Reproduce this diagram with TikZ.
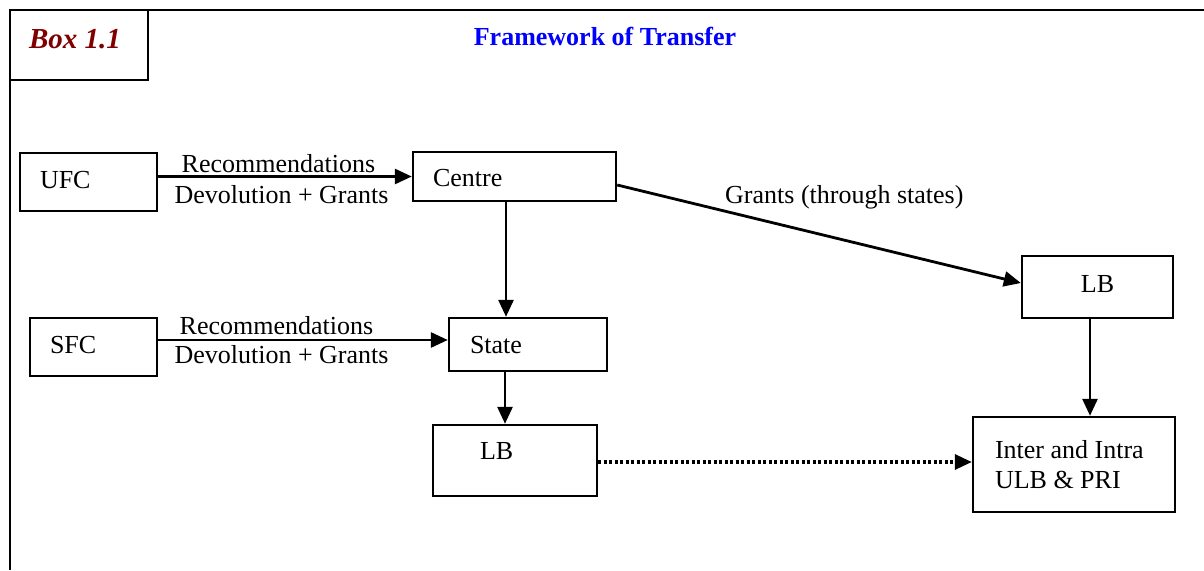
\documentclass[tikz,border=0pt]{standalone}
\usepackage{fontspec}
\setmainfont{Liberation Serif}
\usetikzlibrary{arrows.meta,calc}
\definecolor{boxred}{HTML}{800000}
\definecolor{titleblue}{HTML}{0000FF}
\tikzset{
  frameline/.style={line width=2.6pt},
  fbox/.style={draw,line width=2.4pt,inner ysep=0pt,align=flush left,font=\fontsize{26}{30}\selectfont},
  arr/.style={line width=2.8pt,-{Triangle[length=17pt,width=15pt]}},
  dotarr/.style={line width=3.2pt,dash pattern=on 3pt off 2.5pt,-{Triangle[length=17pt,width=15pt]}},
  lbl/.style={anchor=base,inner sep=0pt,font=\fontsize{26}{30}\selectfont},
}
\begin{document}
\begin{tikzpicture}[x=1pt,y=-1pt]
\useasboundingbox (0,0) rectangle (1204,570);
% outer frame
\draw[frameline] (1204,10) -- (10,10) -- (10,570);
% box label
\node[draw,line width=2.4pt,minimum width=138pt,minimum height=70pt,text width=100pt,inner xsep=19pt,inner ysep=0pt,
      text height=20pt,text depth=14pt,align=flush left,text=boxred,font=\fontsize{29}{33}\selectfont\bfseries\itshape]
  (boxlab) at (79,45) {Box 1.1};
\node[anchor=base,inner sep=0pt,text=titleblue,font=\fontsize{26}{30}\selectfont\bfseries] (title) at (605,45) {Framework of Transfer};
% boxes
\node[fbox,minimum width=137pt,minimum height=58pt,text width=97pt,inner xsep=20pt,text height=18pt,text depth=6pt] (ufc) at (88.5,182) {UFC};
\node[fbox,minimum width=203pt,minimum height=49pt,text width=163pt,inner xsep=20pt,text height=20pt,text depth=0pt] (centre) at (514.5,176.5) {Centre};
\node[fbox,minimum width=127pt,minimum height=58pt,text width=87pt,inner xsep=20pt,text height=18pt,text depth=6pt] (sfc) at (93.5,347) {SFC};
\node[fbox,minimum width=158pt,minimum height=53pt,text width=116pt,inner xsep=21pt,text height=18pt,text depth=1pt] (stt) at (528,344.5) {State};
\node[fbox,align=center,minimum width=151pt,minimum height=62pt,text width=111pt,inner xsep=20pt,text height=18pt,text depth=8pt] (lbt) at (1097.5,287) {LB};
\node[fbox,minimum width=164pt,minimum height=71pt,text width=70pt,inner xsep=47pt,text height=18pt,text depth=21pt] (lbb) at (515,460.5) {LB};
\node[fbox,minimum width=202pt,minimum height=95pt,text width=158pt,inner xsep=22pt] (inter) at (1074,464.5) {Inter and Intra\\ULB \& PRI};
% connector coordinates
\coordinate (c1) at ($(centre.east)+(0,8.5)$);
\coordinate (c2) at ($(lbt.west)+(0,-4)$);
\coordinate (c3) at ($(centre.south)+(-8.5,0)$);
\coordinate (c4) at ($(stt.west)+(0,-4.5)$);
\coordinate (c5) at ($(stt.south)+(-23,0)$);
\coordinate (c6) at ($(lbt.south)+(-7.5,0)$);
\coordinate (c7) at ($(lbb.east)+(0,1.5)$);
% connectors
\draw[arr] (ufc.east |- centre.west) -- (centre.west);
\draw[arr] (sfc.east |- c4) -- (c4);
\draw[arr] (c1) -- (c2);
\draw[arr] (c3) -- (c3 |- stt.north);
\draw[arr] (c5) -- (c5 |- lbb.north);
\draw[arr] (c6) -- (c6 |- inter.north);
\draw[dotarr] (c7) -- (c7 -| inter.west);
% connector labels
\node[lbl] (r1) at (278.5,172) {Recommendations};
\node[lbl] (d1) at (281.5,203) {Devolution + Grants};
\node[lbl] (r2) at (276.5,334) {Recommendations};
\node[lbl] (d2) at (281.5,363) {Devolution + Grants};
\node[lbl,anchor=base west] (g1) at (725,203) {Grants (through states)};
\end{tikzpicture}
\end{document}
